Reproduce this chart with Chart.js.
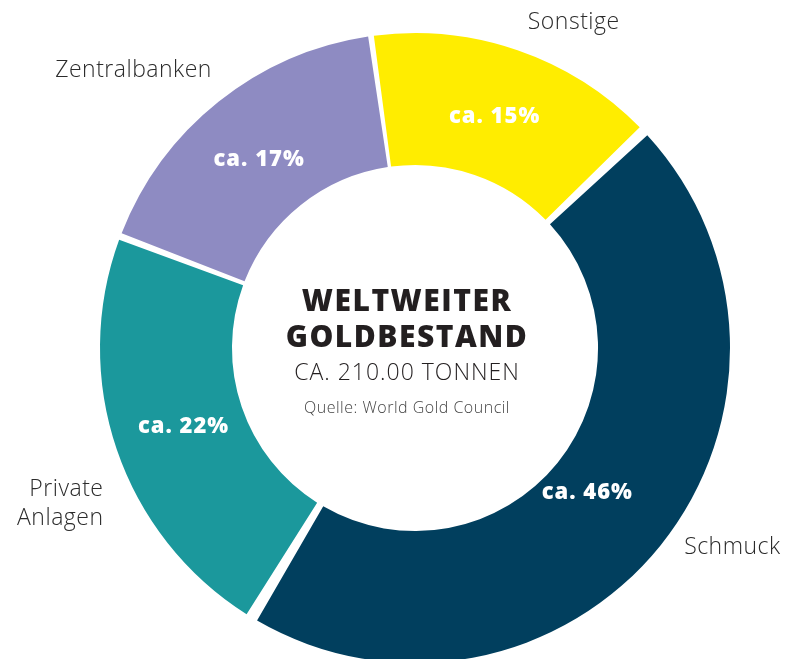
<!DOCTYPE html>
<html>
<head>
<meta charset="utf-8">
<script src="https://cdn.jsdelivr.net/npm/chart.js@4"></script>
<style>
  html, body { margin: 0; padding: 0; background: #fff; overflow: hidden; }
  #wrap { width: 800px; height: 700px; }
</style>
</head>
<body>
<div id="wrap"><canvas id="GraficoGold" width="800" height="700"></canvas></div>
<script>
// Daten
var kategorien = ['Sonstige', 'Schmuck', 'Private Anlagen', 'Zentralbanken'];
var anteile = [15, 46, 22, 17];
var farben = ['#FFED00', '#013F5E', '#1B989C', '#8E8BC2'];
var beschriftung = ['ca. 15%', 'ca. 46%', 'ca. 22%', 'ca. 17%'];
var aussenText = [['Sonstige'], ['Schmuck'], ['Private', 'Anlagen'], ['Zentralbanken']];
var mitteText = ['WELTWEITER', 'GOLDBESTAND', 'CA. 210.00 TONNEN', 'Quelle: World Gold Council'];

var schrift = '"Open Sans", "Noto Sans", sans-serif';

// Texte in den Segmenten, aussen und in der Mitte
var textPlugin = {
  id: 'textPlugin',
  afterDatasetsDraw: function (chart) {
    var ctx = chart.ctx;
    var arcs = chart.getDatasetMeta(0).data;
    var cx = arcs[0].x, cy = arcs[0].y;
    var rAus = arcs[0].outerRadius;
    ctx.save();
    ctx.textBaseline = 'middle';

    // Prozentwerte
    ctx.fillStyle = '#ffffff';
    ctx.font = '800 22px ' + schrift;
    ctx.letterSpacing = '1px';
    ctx.textAlign = 'center';
    var rFaktor = [1, 0.92, 1, 1];
    var wKorr = [0, -1.2, 0, 1];
    arcs.forEach(function (a, i) {
      var mid = (a.startAngle + a.endAngle) / 2 - wKorr[i] * Math.PI / 180;
      var r = (a.innerRadius + (a.outerRadius - a.innerRadius) / 2) * rFaktor[i];
      ctx.fillText(beschriftung[i], cx + Math.cos(mid) * r, cy + Math.sin(mid) * r);
    });

    // Aussenbeschriftung (Winkel in Grad ab 12 Uhr, Abstand relativ zum Radius)
    var lagen = [
      { w: 26, f: 1.166, align: 'center' },
      { w: 122.2, f: 1.208, align: 'center' },
      { w: 243.4, f: 1.122, align: 'right' },
      { w: 314.6, f: 1.273, align: 'center' }
    ];
    ctx.fillStyle = '#2b2b2b';
    ctx.font = '300 23px ' + schrift;
    ctx.letterSpacing = '0.5px';
    aussenText.forEach(function (zeilen, i) {
      var l = lagen[i];
      var w = (l.w - 90) * Math.PI / 180;
      var x = cx + Math.cos(w) * rAus * l.f;
      var y = cy + Math.sin(w) * rAus * l.f;
      ctx.textAlign = l.align;
      var y0 = y - (zeilen.length - 1) * 14.5;
      zeilen.forEach(function (z, k) {
        ctx.fillText(z, x, y0 + k * 29);
      });
    });

    // Mitte (etwas links von der Kreismitte, wie im Original)
    var tx = cx - 8;
    ctx.textAlign = 'center';
    ctx.fillStyle = '#231F20';
    ctx.font = '800 30px ' + schrift;
    ctx.letterSpacing = '1.5px';
    ctx.fillText(mitteText[0], tx, cy - 46);
    ctx.fillText(mitteText[1], tx, cy - 10);
    ctx.font = '300 23px ' + schrift;
    ctx.letterSpacing = '1px';
    ctx.fillText(mitteText[2], tx, cy + 25);
    ctx.fillStyle = '#444';
    ctx.font = '300 16px ' + schrift;
    ctx.letterSpacing = '0.5px';
    ctx.fillText(mitteText[3], tx, cy + 60);
    ctx.restore();
  }
};

var ctx1 = document.getElementById('GraficoGold').getContext('2d');
var data1 = {
  labels: kategorien,
  datasets: [{
    data: anteile,
    backgroundColor: farben,
    borderWidth: 0,
    spacing: 9
  }]
};
var options1 = {
  responsive: false,
  animation: false,
  rotation: -8,
  cutout: '57.5%',
  layout: {
    padding: { left: 100, right: 70, top: 33, bottom: 37 }
  },
  plugins: {
    legend: { display: false },
    tooltip: { enabled: false }
  }
};
var GraficoGold = new Chart(ctx1, {
  type: 'doughnut',
  data: data1,
  options: options1,
  plugins: [textPlugin]
});
</script>
</body>
</html>
